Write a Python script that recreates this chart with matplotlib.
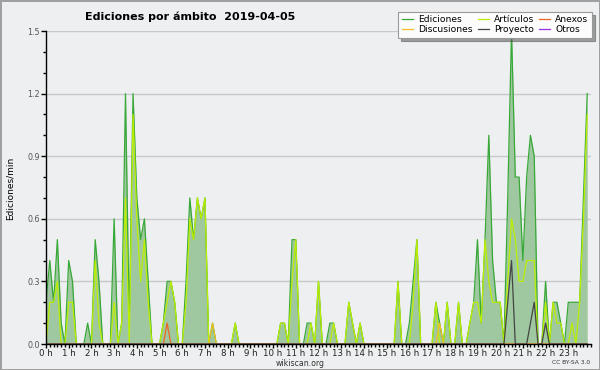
import matplotlib
matplotlib.use("Agg")
import matplotlib.pyplot as plt
from matplotlib.ticker import MultipleLocator, FormatStrFormatter
import numpy as np

# edits per minute, one value per 10-minute slot (6 per hour)
ediciones = [
    0.2, 0.4, 0.2, 0.5, 0.1, 0.0,   # 0 h
    0.4, 0.3, 0.0, 0.0, 0.0, 0.1,   # 1 h
    0.0, 0.5, 0.3, 0.0, 0.0, 0.0,   # 2 h
    0.6, 0.0, 0.1, 1.2, 0.1, 1.2,   # 3 h
    0.7, 0.5, 0.6, 0.3, 0.0, 0.0,   # 4 h
    0.0, 0.1, 0.3, 0.3, 0.2, 0.0,   # 5 h
    0.0, 0.3, 0.7, 0.5, 0.7, 0.6,   # 6 h
    0.7, 0.0, 0.1, 0.0, 0.0, 0.0,   # 7 h
    0.0, 0.0, 0.1, 0.0, 0.0, 0.0,   # 8 h
    0.0, 0.0, 0.0, 0.0, 0.0, 0.0,   # 9 h
    0.0, 0.0, 0.1, 0.1, 0.0, 0.5,   # 10 h
    0.5, 0.0, 0.0, 0.1, 0.1, 0.0,   # 11 h
    0.3, 0.0, 0.0, 0.1, 0.1, 0.0,   # 12 h
    0.0, 0.0, 0.2, 0.1, 0.0, 0.1,   # 13 h
    0.0, 0.0, 0.0, 0.0, 0.0, 0.0,   # 14 h
    0.0, 0.0, 0.0, 0.3, 0.0, 0.0,   # 15 h
    0.1, 0.3, 0.5, 0.0, 0.0, 0.0,   # 16 h
    0.0, 0.2, 0.1, 0.0, 0.2, 0.0,   # 17 h
    0.0, 0.2, 0.0, 0.0, 0.1, 0.2,   # 18 h
    0.5, 0.1, 0.5, 1.0, 0.4, 0.2,   # 19 h
    0.2, 0.0, 0.7, 1.5, 0.8, 0.8,   # 20 h
    0.4, 0.8, 1.0, 0.9, 0.0, 0.0,   # 21 h
    0.3, 0.0, 0.2, 0.2, 0.1, 0.0,   # 22 h
    0.2, 0.2, 0.2, 0.2, 0.7, 1.2,   # 23 h
]

articulos = [
    0.0, 0.2, 0.2, 0.3, 0.0, 0.0,
    0.2, 0.2, 0.0, 0.0, 0.0, 0.0,
    0.0, 0.4, 0.1, 0.0, 0.0, 0.0,
    0.2, 0.0, 0.1, 0.7, 0.0, 1.1,
    0.6, 0.3, 0.5, 0.2, 0.0, 0.0,
    0.0, 0.1, 0.2, 0.3, 0.2, 0.0,
    0.0, 0.2, 0.6, 0.5, 0.7, 0.6,
    0.7, 0.0, 0.0, 0.0, 0.0, 0.0,
    0.0, 0.0, 0.1, 0.0, 0.0, 0.0,
    0.0, 0.0, 0.0, 0.0, 0.0, 0.0,
    0.0, 0.0, 0.1, 0.1, 0.0, 0.3,
    0.5, 0.0, 0.0, 0.0, 0.1, 0.0,
    0.3, 0.0, 0.0, 0.0, 0.1, 0.0,
    0.0, 0.0, 0.2, 0.1, 0.0, 0.1,
    0.0, 0.0, 0.0, 0.0, 0.0, 0.0,
    0.0, 0.0, 0.0, 0.3, 0.0, 0.0,
    0.0, 0.2, 0.5, 0.0, 0.0, 0.0,
    0.0, 0.2, 0.0, 0.0, 0.2, 0.0,
    0.0, 0.2, 0.0, 0.0, 0.1, 0.2,
    0.2, 0.1, 0.5, 0.3, 0.2, 0.2,
    0.2, 0.0, 0.3, 0.6, 0.5, 0.3,
    0.3, 0.4, 0.4, 0.4, 0.0, 0.0,
    0.2, 0.0, 0.2, 0.1, 0.1, 0.0,
    0.0, 0.1, 0.0, 0.2, 0.6, 1.1,
]

# sparse series: slot index -> value
anexos_pts = {32: 0.1}
discusiones_pts = {44: 0.1, 104: 0.1}
proyecto_pts = {122: 0.2, 123: 0.4, 128: 0.1, 129: 0.2, 132: 0.1}
otros_pts = {}

hour_labels = ["%d h" % h for h in range(24)]


def expand(pts):
    vals = np.zeros(144)
    for k, v in pts.items():
        vals[k] = v
    return vals


anexos = expand(anexos_pts)
discusiones = expand(discusiones_pts)
proyecto = expand(proyecto_pts)
otros = expand(otros_pts)

hours = np.arange(144) / 6.0

bg = "#eeeff0"
fig = plt.figure(figsize=(6, 3.7), dpi=100, facecolor=bg,
                 edgecolor="#a0a0a0", linewidth=2)
ax = fig.add_axes([46 / 600, 26 / 370, 545 / 600, 313 / 370])
ax.set_facecolor(bg)

ax.fill_between(hours, 0, ediciones, color="#a0c8a0", lw=0, zorder=1)
l_ed, = ax.plot(hours, ediciones, color="#38a838", lw=0.9, zorder=2)
l_art, = ax.plot(hours, articulos, color="#bbee00", lw=0.9, zorder=2)
l_anx, = ax.plot(hours, anexos, color="#ee6622", lw=0.9, zorder=2)
l_dis, = ax.plot(hours, discusiones, color="#f0c020", lw=0.9, zorder=2)
l_pro, = ax.plot(hours, proyecto, color="#444444", lw=0.9, zorder=2)
l_otr, = ax.plot(hours, otros, color="#9933ee", lw=0.9, zorder=2)

ax.set_xlim(0, 24)
ax.set_ylim(0, 1.5)
for s in ["top", "right"]:
    ax.spines[s].set_visible(False)
ax.spines["left"].set_linewidth(1)
ax.spines["bottom"].set_linewidth(1)

ax.yaxis.set_major_locator(MultipleLocator(0.3))
ax.yaxis.set_minor_locator(MultipleLocator(0.1))
ax.yaxis.set_major_formatter(FormatStrFormatter("%.1f"))
ax.set_xticks(range(24))
ax.set_xticklabels(hour_labels)
ax.xaxis.set_minor_locator(MultipleLocator(1 / 6))

ax.tick_params(axis="x", which="major", length=3, width=1, pad=0.5,
               labelsize=6.2, labelcolor="#222222")
ax.tick_params(axis="x", which="minor", length=2.5, width=1)
ax.tick_params(axis="y", which="major", length=3.5, width=1, pad=1,
               labelsize=5.8, labelcolor="#555555")
ax.tick_params(axis="y", which="minor", length=2.5, width=1)

ax.grid(axis="y", which="major", color="#c8c8c8", lw=1)
ax.set_axisbelow(True)

fig.text(85 / 600, 1 - 17 / 370, "Ediciones por ámbito  2019-04-05",
         ha="left", va="center", fontsize=8, fontweight="bold")
fig.text(10 / 600, 0.49, "Ediciones/min", rotation=90, ha="center",
         va="center", fontsize=6.5)
fig.text(300 / 600, 1 - 363 / 370, "wikiscan.org", ha="center",
         va="center", fontsize=5.6, color="#333333")
fig.text(590 / 600, 1 - 363 / 370, "CC BY-SA 3.0", ha="right",
         va="center", fontsize=4.3, color="#333333")

leg = fig.legend([l_ed, l_dis, l_art, l_pro, l_anx, l_otr],
                 ["Ediciones", "Discusiones", "Artículos", "Proyecto",
                  "Anexos", "Otros"],
                 ncol=3, loc="upper right",
                 bbox_to_anchor=(594 / 600, 1 - 10 / 370),
                 fontsize=6.6, frameon=True, shadow=True, fancybox=False,
                 handlelength=1.2, handletextpad=0.6, columnspacing=0.5,
                 labelspacing=0.1, borderpad=0.4, borderaxespad=0.2)
leg.get_frame().set_facecolor("#fcfcfc")
leg.get_frame().set_edgecolor("#999999")
leg.get_frame().set_linewidth(0.8)

fig.savefig("out.png", dpi=100, facecolor=fig.get_facecolor(),
            edgecolor=fig.get_edgecolor())
